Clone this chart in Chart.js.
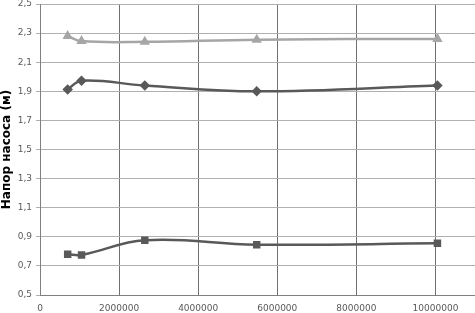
<!DOCTYPE html>
<html>
<head>
<meta charset="utf-8">
<script src="https://cdn.jsdelivr.net/npm/chart.js@4/dist/chart.umd.min.js"></script>
<style>
  html, body { margin: 0; padding: 0; background: #fff; }
  #wrap { width: 475px; height: 313px; }
</style>
</head>
<body>
<div id="wrap"><canvas id="pumpChart"></canvas></div>
<script>
// Values
const flowTop = [700000, 1050000, 2650000, 5480000, 10050000];
const headTop = [2.28, 2.245, 2.24, 2.255, 2.26];

const flowMid = [700000, 1050000, 2650000, 5480000, 10050000];
const headMid = [1.913, 1.973, 1.94, 1.90, 1.94];

const flowLow = [700000, 1050000, 2650000, 5480000, 10050000];
const headLow = [0.78, 0.775, 0.876, 0.846, 0.855];

const xTicks = [0, 2000000, 4000000, 6000000, 8000000, 10000000];
const yTitle = 'Напор насоса (м)';

function toPoints(xs, ys) {
    return xs.map((x, i) => ({ x: x, y: ys[i] }));
}

document.addEventListener('DOMContentLoaded', function() {
    const ctx = document.getElementById('pumpChart').getContext('2d');
    new Chart(ctx, {
        type: 'scatter',
        data: {
            datasets: [
                {
                    data: toPoints(flowTop, headTop),
                    showLine: true,
                    borderColor: '#a6a6a6',
                    backgroundColor: '#a6a6a6',
                    borderWidth: 2.5,
                    pointStyle: 'triangle',
                    pointRadius: 3.5,
                    tension: 0.4
                },
                {
                    data: toPoints(flowMid, headMid),
                    showLine: true,
                    borderColor: '#595959',
                    backgroundColor: '#595959',
                    borderWidth: 2.5,
                    pointStyle: 'rectRot',
                    pointRadius: 3.5,
                    tension: 0.4
                },
                {
                    data: toPoints(flowLow, headLow),
                    showLine: true,
                    borderColor: '#595959',
                    backgroundColor: '#595959',
                    borderWidth: 2.5,
                    pointStyle: 'rect',
                    pointRadius: 3.5,
                    tension: 0.4
                }
            ]
        },
        options: {
            responsive: true,
            maintainAspectRatio: false,
            animation: false,
            layout: { padding: 0, autoPadding: false },
            plugins: {
                legend: { display: false },
                tooltip: { enabled: false }
            },
            scales: {
                x: {
                    type: 'linear',
                    min: 0,
                    max: 11000000,
                    afterBuildTicks: function(scale) {
                        scale.ticks = xTicks.map(v => ({ value: v }));
                    },
                    afterFit: function(scale) {
                        scale.height = 18;
                        scale.paddingLeft = 0;
                        scale.paddingRight = 0;
                    },
                    border: { color: '#808080' },
                    grid: { color: '#707070', drawTicks: false },
                    ticks: {
                        padding: 8,
                        color: '#595959',
                        font: { family: 'DejaVu Sans', size: 9 },
                        maxRotation: 0,
                        autoSkip: false,
                        callback: function(v) { return String(v); }
                    }
                },
                y: {
                    min: 0.5,
                    max: 2.5,
                    afterFit: function(scale) {
                        scale.width = 40;
                        scale.paddingTop = 4;
                        scale.paddingBottom = 0;
                    },
                    border: { color: '#808080' },
                    grid: { color: '#b0b0b0', tickLength: 4 },
                    ticks: {
                        stepSize: 0.2,
                        padding: 4,
                        color: '#595959',
                        font: { family: 'DejaVu Sans', size: 9 },
                        callback: function(v) { return v.toFixed(1).replace('.', ','); }
                    },
                    title: {
                        display: true,
                        text: yTitle,
                        color: '#000',
                        padding: { top: 0, bottom: 0 },
                        font: { family: 'DejaVu Sans', size: 12, weight: 'bold' }
                    }
                }
            }
        }
    });
});
</script>
</body>
</html>
